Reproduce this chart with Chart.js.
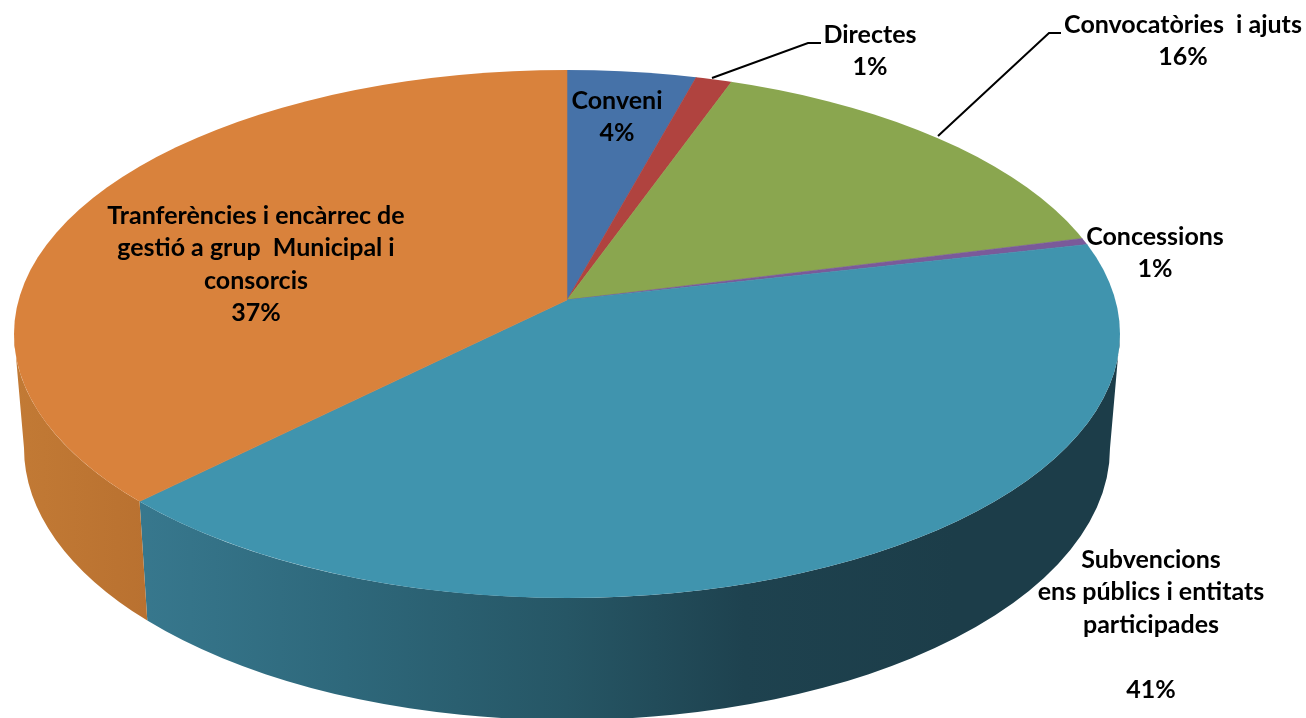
<!DOCTYPE html>
<html lang="ca">
<head>
<meta charset="utf-8">
<title>Pie</title>
<script src="https://cdn.jsdelivr.net/npm/chart.js@4/dist/chart.umd.min.js"></script>
<style>
  html, body { margin: 0; padding: 0; background: #fff; }
  canvas { display: block; }
</style>
</head>
<body>
<canvas id="pieChart" width="1306" height="718"></canvas>
<script>
// === DATA ===
const categories = ['Conveni', 'Directes', 'Convocatòries i ajuts', 'Concessions', 'Subvencions', 'Tranferències'];
const shares = [4.3, 1.2, 15.6, 0.4, 41.1, 37.4];
const labelLines = [
  ['Conveni', '4%'],
  ['Directes', '1%'],
  ['Convocatòries  i ajuts', '16%'],
  ['Concessions', '1%'],
  ['Subvencions', 'ens públics i entitats', 'participades', '', '41%'],
  ['Tranferències i encàrrec de', 'gestió a grup  Municipal i', 'consorcis', '37%']
];

// === STYLE ===
const topColors = ['#4672a8', '#b0433f', '#8aa64f', '#7a5a9a', '#4094ae', '#d9823c'];
const wallStops = [
  null, null, null, null,
  [[0.1, '#38798f'], [0.3, '#2e687b'], [0.5, '#265665'], [0.66, '#1e424f'], [0.85, '#1c3d49']],
  [[0, '#c27a35'], [0.12, '#b97130']]
];
const labelCenters = [[617, 101], [870, 35], [1183, 25], [1155, 237], [1151, 560], [256, 216]];
const leaders = [
  [[712, 78], [808, 43], [821, 43]],
  [[938, 136], [1049, 33], [1061, 33]]
];
const apex = { x: 567, y: 300 };
const rim = { x: 567, y: 334, rx: 553, ry: 264 };
const base = { x: 567, y: 448, rx: 543, ry: 272 };
const oversize = 1.25;
const fontSize = 25;
const lineHeight = 32.4;

// ray from the apex to the rim ellipse, returns the ellipse parameter
function rimParam(angle) {
  const py = (apex.y - rim.y) / rim.ry;
  const ux = Math.cos(angle), uy = Math.sin(angle);
  const b = py * uy;
  const s = -b + Math.sqrt(b * b - (py * py - 1));
  return Math.atan2(py + s * uy, s * ux);
}

const pie3d = {
  id: 'pie3d',
  beforeDatasetsDraw(chart) {
    const ctx = chart.ctx;
    const arcs = chart.getDatasetMeta(0).data;

    // side wall, only the front half of the rim shows
    arcs.forEach((arc, i) => {
      if (!wallStops[i]) return;
      let a = rimParam(arc.startAngle);
      let b = rimParam(arc.endAngle);
      if (a < -Math.PI / 2) a += Math.PI * 2;
      if (b < -Math.PI / 2) b += Math.PI * 2;
      a = Math.max(a, 0);
      b = Math.min(b, Math.PI);
      if (a < 0 || b <= a) return;
      const grad = ctx.createLinearGradient(rim.x - rim.rx, 0, rim.x + rim.rx, 0);
      wallStops[i].forEach(s => grad.addColorStop(s[0], s[1]));
      ctx.beginPath();
      ctx.ellipse(rim.x, rim.y, rim.rx, rim.ry, 0, a, b);
      ctx.ellipse(base.x, base.y, base.rx, base.ry, 0, b, a, true);
      ctx.closePath();
      ctx.fillStyle = grad;
      ctx.fill();
    });

    // flatten the pie: arcs stay centred on the apex, the rim ellipse trims them
    const first = arcs[0];
    const R = first.outerRadius;
    ctx.save();
    ctx.beginPath();
    ctx.ellipse(rim.x, rim.y, rim.rx, rim.ry, 0, 0, Math.PI * 2);
    ctx.clip();
    ctx.translate(apex.x, apex.y);
    ctx.scale(oversize * rim.rx / R, oversize * rim.ry / R);
    ctx.translate(-first.x, -first.y);
  },
  afterDatasetsDraw(chart) {
    const ctx = chart.ctx;
    ctx.restore();

    // leader lines
    ctx.save();
    ctx.strokeStyle = '#000';
    ctx.lineWidth = 2;
    leaders.forEach(pts => {
      ctx.beginPath();
      pts.forEach((p, i) => i ? ctx.lineTo(p[0], p[1]) : ctx.moveTo(p[0], p[1]));
      ctx.stroke();
    });

    // labels
    ctx.font = `700 ${fontSize}px Lato, "Open Sans", sans-serif`;
    ctx.fillStyle = '#000';
    ctx.textAlign = 'center';
    ctx.textBaseline = 'middle';
    labelLines.forEach((lines, i) => {
      lines.forEach((line, j) => {
        if (line) ctx.fillText(line, labelCenters[i][0], labelCenters[i][1] + j * lineHeight);
      });
    });
    ctx.restore();
  }
};

new Chart(document.getElementById('pieChart'), {
  type: 'pie',
  data: {
    labels: categories,
    datasets: [{
      data: shares,
      backgroundColor: topColors,
      borderColor: topColors,
      borderWidth: 0.4,
      clip: false
    }]
  },
  options: {
    responsive: false,
    animation: false,
    plugins: {
      legend: { display: false },
      tooltip: { enabled: false }
    }
  },
  plugins: [pie3d]
});
</script>
</body>
</html>
